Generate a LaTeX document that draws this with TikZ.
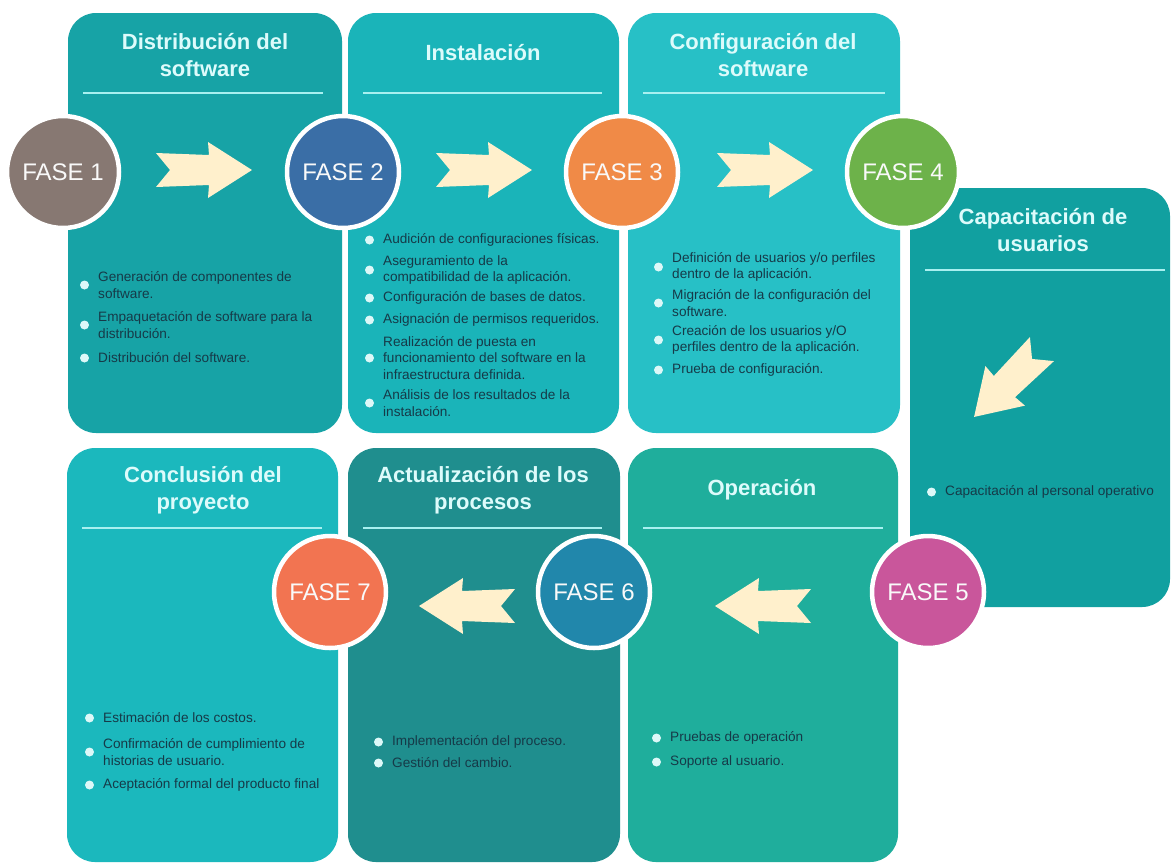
\documentclass[tikz,border=0pt]{standalone}
\usepackage{fontspec}
\setmainfont{Liberation Sans}
\definecolor{pA}{HTML}{17A3A6}
\definecolor{pB}{HTML}{1AB4B9}
\definecolor{pC}{HTML}{27C0C6}
\definecolor{pD}{HTML}{11A0A0}
\definecolor{pE}{HTML}{1BB8BD}
\definecolor{pF}{HTML}{1F8E8E}
\definecolor{pG}{HTML}{1FAE9C}
\definecolor{cA}{HTML}{877872}
\definecolor{cB}{HTML}{3A6EA6}
\definecolor{cC}{HTML}{F08A47}
\definecolor{cD}{HTML}{6DB24A}
\definecolor{cE}{HTML}{C9569B}
\definecolor{cF}{HTML}{2187AB}
\definecolor{cG}{HTML}{F27451}
\definecolor{titlec}{HTML}{DDFBFB}
\definecolor{bodyc}{HTML}{163A48}
\definecolor{dotc}{HTML}{DDF8F8}
\definecolor{linec}{HTML}{A8F0F0}
\definecolor{arrowc}{HTML}{FFF0CC}
\newcommand\bitem[4]{%
  \node[btext] (#1) at (#2,#3) {#4};
  \node[bdot] (#1d) at ([xshift=-13.5pt]#1.west) {};}
\newcommand\fatarrow[3]{%
  \fill[arrowc, shift={(#1,#2)}, rotate=#3]
    (-48,-17) -- (-34,0) -- (-48,17) -- (5,15) -- (4,28) -- (48,0)
    -- (4,-28) -- (5,-15) -- cycle;}
\begin{document}
\begin{tikzpicture}[x=1pt,y=-1pt,
  panelbox/.style={rectangle, rounded corners=28pt, inner sep=0pt, outer sep=0pt, draw=none},
  fase/.style={circle, minimum size=112pt, draw=white, line width=4.5pt, text=white!95!gray,
    font=\fontsize{24}{24}\selectfont, inner sep=0pt},
  ttl/.style={text=titlec, font=\bfseries\fontsize{22}{27}\selectfont, align=center, inner sep=0pt},
  btext/.style={anchor=west, text=bodyc, font=\fontsize{13.6}{16.5}\selectfont, align=left, inner sep=0pt},
  bdot/.style={circle, fill=dotc, minimum size=9pt, inner sep=0pt},
  hline/.style={draw=linec, line width=2pt}]
\useasboundingbox[fill=white] (0,0) rectangle (1172,863);

% panels
\node[panelbox, fill=pA, minimum width=274pt, minimum height=420pt] (p1) at (205,223) {};
\node[panelbox, fill=pB, minimum width=271pt, minimum height=420pt] (p2) at (483.5,223) {};
\node[panelbox, fill=pC, minimum width=272pt, minimum height=420pt] (p3) at (764,223) {};
\node[panelbox, fill=pD, minimum width=260pt, minimum height=419pt] (p4) at (1040,397.5) {};
\node[panelbox, fill=pE, minimum width=271pt, minimum height=414pt] (p5) at (202.5,655) {};
\node[panelbox, fill=pF, minimum width=272pt, minimum height=414pt] (p6) at (484,655) {};
\node[panelbox, fill=pG, minimum width=270pt, minimum height=414pt] (p7) at (763,655) {};

% titles
\node[ttl] (t1) at (205,55) {Distribución del\\software};
\node[ttl] (t2) at (483,53) {Instalación};
\node[ttl] (t3) at (763,55) {Configuración del\\software};
\node[ttl] (t4) at (1043,230) {Capacitación de\\usuarios};
\node[ttl] (t5) at (203,490) {Conclusión del\\proyecto};
\node[ttl] (t6) at (483,490) {Actualización de los\\procesos};
\node[ttl] (t7) at (762,490) {Operación};

% header lines
\draw[hline] (83,93) -- (323,93);
\draw[hline] (363,93) -- (602,93);
\draw[hline] (643,93) -- (885,93);
\draw[hline] (925,270) -- (1165,270);
\draw[hline] (82,528) -- (322,528);
\draw[hline] (363,528) -- (602,528);
\draw[hline] (643,528) -- (883,528);

% bullets panel 1
\bitem{a1}{98}{285}{Generación de componentes de\\software.}
\bitem{a2}{98}{325}{Empaquetación de software para la\\distribución.}
\bitem{a3}{98}{358}{Distribución del software.}
% panel 2
\bitem{b1}{383}{240}{Audición de configuraciones físicas.}
\bitem{b2}{383}{270}{Aseguramiento de la\\compatibilidad de la aplicación.}
\bitem{b3}{383}{298}{Configuración de bases de datos.}
\bitem{b4}{383}{320}{Asignación de permisos requeridos.}
\bitem{b5}{383}{358}{Realización de puesta en\\funcionamiento del software en la\\infraestructura definida.}
\bitem{b6}{383}{403}{Análisis de los resultados de la\\instalación.}
% panel 3
\bitem{c1}{672}{267}{Definición de usuarios y/o perfiles\\dentro de la aplicación.}
\bitem{c2}{672}{303}{Migración de la configuración del\\software.}
\bitem{c3}{672}{340}{Creación de los usuarios y/O\\perfiles dentro de la aplicación.}
\bitem{c4}{672}{370}{Prueba de configuración.}
% panel 4
\bitem{d1}{945}{492}{Capacitación al personal operativo}
% panel 5
\bitem{e1}{103}{718}{Estimación de los costos.}
\bitem{e2}{103}{752}{Confirmación de cumplimiento de\\historias de usuario.}
\bitem{e3}{103}{785}{Aceptación formal del producto final}
% panel 6
\bitem{f1}{392}{742}{Implementación del proceso.}
\bitem{f2}{392}{763}{Gestión del cambio.}
% panel 7
\bitem{g1}{670}{738}{Pruebas de operación}
\bitem{g2}{670}{762}{Soporte al usuario.}

% arrows
\fatarrow{204}{170}{0}
\fatarrow{484}{170}{0}
\fatarrow{765}{170}{0}
\fatarrow{1008}{383}{225}
\fatarrow{763}{606}{180}
\fatarrow{467}{606}{180}

% phase circles
\node[fase, fill=cA] (F1) at (63,172) {FASE 1};
\node[fase, fill=cB] (F2) at (343,172) {FASE 2};
\node[fase, fill=cC] (F3) at (622,172) {FASE 3};
\node[fase, fill=cD] (F4) at (903,172) {FASE 4};
\node[fase, fill=cE] (F5) at (928,592) {FASE 5};
\node[fase, fill=cF] (F6) at (594,592) {FASE 6};
\node[fase, fill=cG] (F7) at (330,592) {FASE 7};
\end{tikzpicture}
\end{document}
